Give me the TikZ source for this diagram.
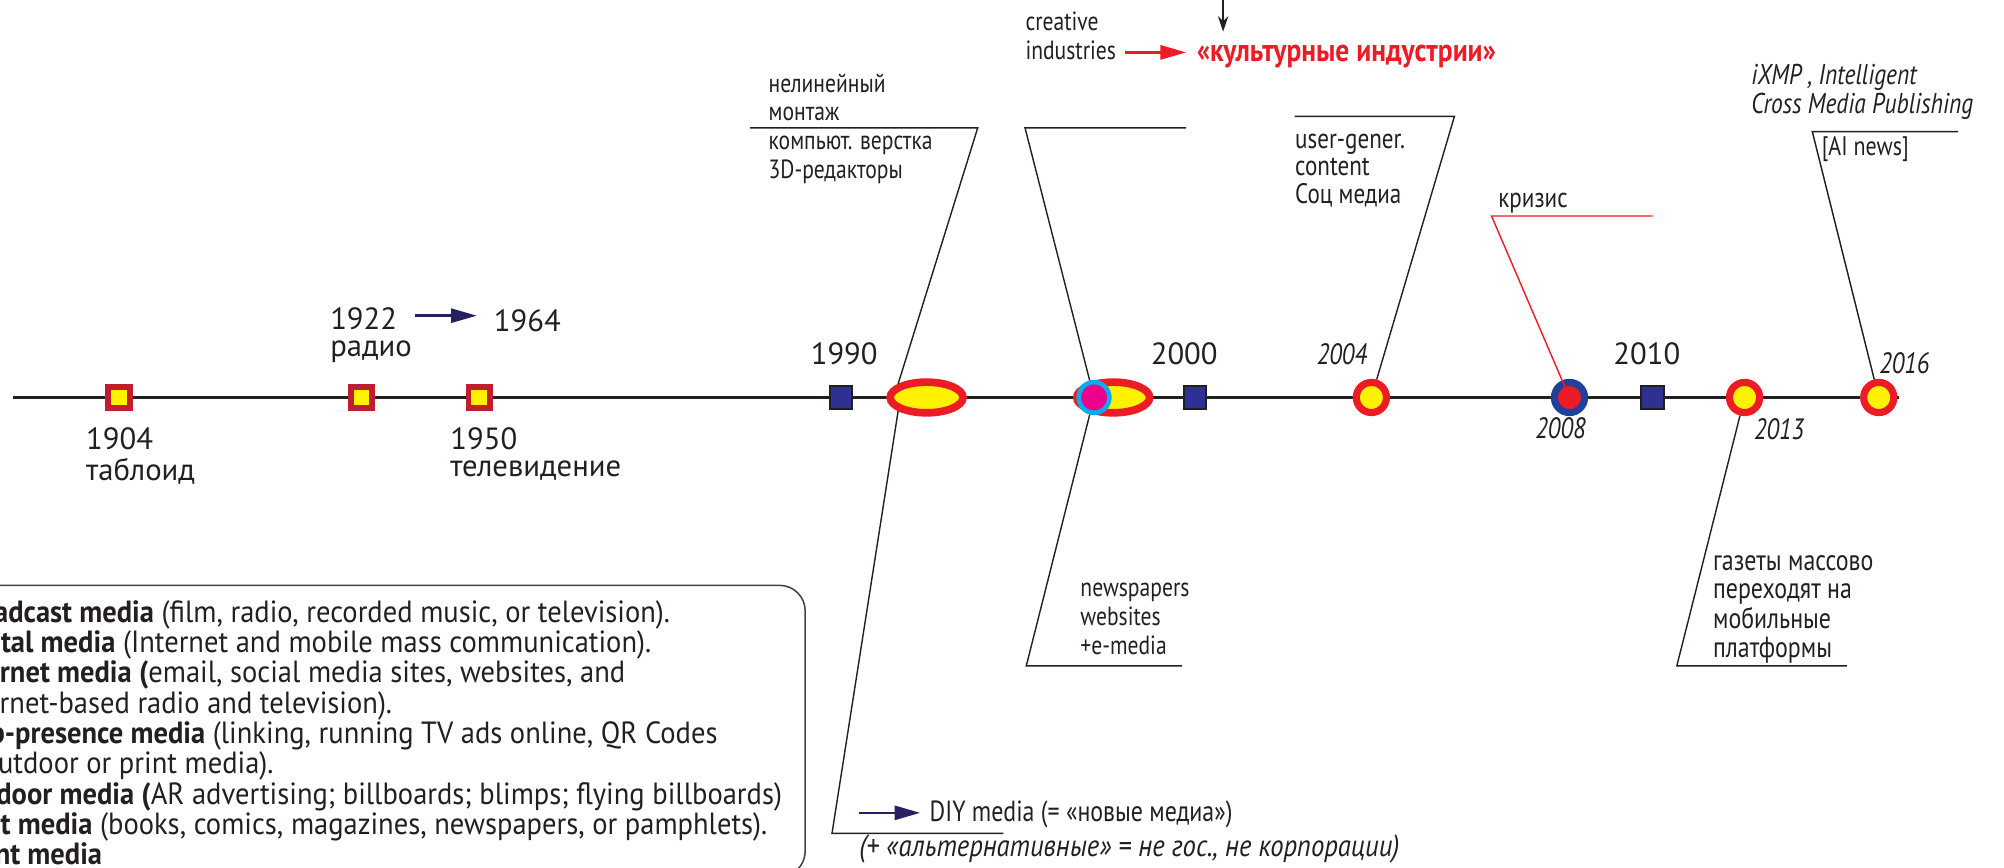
\documentclass[tikz,border=0pt]{standalone}
\usepackage{fontspec}
\setmainfont{PT Sans}
\newfontfamily\narrowfont[FakeStretch=0.82]{PT Sans}
\newfontfamily\semifont[FakeStretch=0.93]{PT Sans}
\usetikzlibrary{shapes.geometric,arrows.meta}
\definecolor{mred}{HTML}{ED1C24}
\definecolor{myellow}{HTML}{FFF200}
\definecolor{mnavy}{HTML}{2E3192}
\definecolor{mdark}{HTML}{231F20}
\definecolor{mcrimson}{HTML}{BE1E2D}
\definecolor{mblue}{HTML}{21409A}
\definecolor{mcyan}{HTML}{00AEEF}
\definecolor{mmagenta}{HTML}{EC008C}
\definecolor{marrow}{HTML}{262262}

\begin{document}
\begin{tikzpicture}[x=0.5pt, y=-0.5pt,
    every node/.style={inner sep=0pt, text=mdark},
    oldmark/.style={rectangle, draw=mcrimson, fill=myellow, line width=2.3pt, minimum size=8.4pt},
    newmark/.style={rectangle, draw=mdark, fill=mnavy, line width=0.9pt, minimum size=8.8pt},
    ringmark/.style={circle, draw=mred, fill=myellow, line width=2.8pt, minimum size=11.8pt},
    ovalmark/.style={ellipse, draw=mred, fill=myellow, line width=3pt, minimum width=28.5pt, minimum height=12pt},
    yearlbl/.style={anchor=base west, font=\fontsize{12}{10.5}\selectfont},
    itlbl/.style={anchor=base, font=\narrowfont\itshape\fontsize{11.5}{12}\selectfont},
    notelbl/.style={anchor=base west, font=\narrowfont\fontsize{10.3}{11.25}\selectfont},
    lead/.style={draw=mdark, line width=0.55pt},
    fwd/.style={-{Triangle[length=10pt,width=5.5pt]}, line width=1pt, draw=marrow},
  ]
  \useasboundingbox (0,0) rectangle (1568,679);

  \begin{scope}
    \clip (0,0) rectangle (1568,679);
    \draw[rounded corners=10pt, draw=mdark!85, line width=0.6pt] (-40,458) rectangle (630,686);
    \node (legend) [anchor=base west, font=\semifont\fontsize{12}{11}\selectfont] at (-38,487) {
      \begin{tabular}[t]{@{}l@{}}
        \textbf{Broadcast media} (film, radio, recorded music, or television). \\
        \textbf{Digital media} (Internet and mobile mass communication). \\
        \textbf{Internet media (}email, social media sites, websites, and \\
        Internet-based radio and television). \\
        \textbf{Web-presence media} (linking, running TV ads online, QR Codes \\
        in outdoor or print media). \\
        \textbf{Outdoor media (}AR advertising; billboards; blimps; flying billboards) \\
        \textbf{Print media} (books, comics, magazines, newspapers, or pamphlets). \\
        \textbf{Event media}
      \end{tabular}
    };
  \end{scope}

  \coordinate (tl0) at (10,311);
  \coordinate (tl1) at (1486,311);
  \draw[draw=mdark, line width=1.2pt] (tl0) -- (tl1);

  \node (sq1904) [oldmark] at (93,311) {};
  \node (sq1922) [oldmark] at (283,311) {};
  \node (sq1950) [oldmark] at (375,311) {};
  \node (bx1990) [newmark] at (658,311) {};
  \node (bx2000) [newmark] at (935,311) {};
  \node (bx2010) [newmark] at (1293,311) {};
  \node (ov1) [ovalmark] at (725,311) {};
  \node (ov2) [ovalmark] at (871,311) {};
  \node (dot2) [circle, draw=mcyan, fill=mmagenta, line width=1.8pt, minimum size=12pt] at (856,311) {};
  \node (rg2004) [ringmark] at (1073,311) {};
  \node (rg2008) [ringmark, draw=mblue, fill=mred] at (1228,311) {};
  \node (rg2013) [ringmark] at (1365,311) {};
  \node (rg2016) [ringmark] at (1470,311) {};

  \node (n1904) [yearlbl] at (67,352) {
    \begin{tabular}[t]{@{}l@{}}
      1904 \\
      таблоид
    \end{tabular}
  };
  \node (n1922) [yearlbl] at (258,258) {
    \begin{tabular}[t]{@{}l@{}}
      1922 \\
      радио
    \end{tabular}
  };
  \node (n1964) [yearlbl] at (386,259) {1964};
  \node (n1950) [yearlbl] at (352,352) {
    \begin{tabular}[t]{@{}l@{}}
      1950 \\
      телевидение
    \end{tabular}
  };
  \node (n1990) [yearlbl] at (634,285) {1990};
  \node (n2000) [yearlbl] at (900,285) {2000};
  \node (n2010) [yearlbl] at (1262,285) {2010};

  \node (i2004) [itlbl] at (1050,285) {2004};
  \node (i2008) [itlbl] at (1221,343) {2008};
  \node (i2013) [itlbl] at (1392,344) {2013};
  \node (i2016) [itlbl] at (1490,292) {2016};

  \node (edit) [notelbl] at (601,72) {
    \begin{tabular}[t]{@{}l@{}}
      нелинейный \\
      монтаж \\
      компьют. верстка \\
      3D-редакторы
    \end{tabular}
  };
  \node (ci) [notelbl] at (802,24) {
    \begin{tabular}[t]{@{}l@{}}
      creative \\
      industries
    \end{tabular}
  };
  \node (kult) [notelbl, text=mred, font=\bfseries\fontsize{12.5}{12}\selectfont\addfontfeature{FakeStretch=0.86}] at (936,48) {«культурные индустрии»};
  \node (ugc) [notelbl, font=\narrowfont\fontsize{11}{10.75}\selectfont] at (1013,116) {
    \begin{tabular}[t]{@{}l@{}}
      user-gener. \\
      content \\
      Соц медиа
    \end{tabular}
  };
  \node (krz) [notelbl, font=\narrowfont\fontsize{11}{11}\selectfont] at (1172,162) {кризис};
  \node (ixmp) [notelbl, font=\narrowfont\itshape\fontsize{11.2}{11.5}\selectfont] at (1370,66) {
    \begin{tabular}[t]{@{}l@{}}
      iXMP , Intelligent \\
      Cross Media Publishing
    \end{tabular}
  };
  \node (ainews) [notelbl, font=\narrowfont\fontsize{10.5}{11}\selectfont] at (1425,122) {[AI news]};
  \node (nws) [notelbl] at (845,467) {
    \begin{tabular}[t]{@{}l@{}}
      newspapers \\
      websites \\
      +e-media
    \end{tabular}
  };
  \node (gaz) [notelbl, font=\narrowfont\fontsize{11.4}{11.25}\selectfont] at (1340,446) {
    \begin{tabular}[t]{@{}l@{}}
      газеты массово \\
      переходят на \\
      мобильные \\
      платформы
    \end{tabular}
  };
  \node (diy) [notelbl, font=\narrowfont\fontsize{11.4}{12}\selectfont] at (727,643) {DIY media (= «новые медиа»)};
  \node (alt) [notelbl, font=\itshape\fontsize{12}{12}\selectfont\addfontfeature{FakeStretch=0.87}] at (672,670) {(+ «альтернативные» = не гос., не корпорации)};

  \coordinate (ra) at (325,247);
  \draw[fwd, shorten >=6.5pt] (ra) -- (ra -| n1964.west);
  \coordinate (ca) at (880,41);
  \draw[fwd, draw=mred, shorten >=4pt] (ca) -- (ca -| kult.west);
  \coordinate (cb) at (957,0);
  \draw[-{Stealth[length=6pt,width=4pt]}, lead, shorten >=5pt] (cb) -- (cb |- kult.north);
  \coordinate (da) at (672,636);
  \draw[fwd, shorten >=3.5pt] (da) -- (da -| diy.west);

  \coordinate (a1) at (587,100);
  \coordinate (a2) at (765,100);
  \coordinate (a3) at (651,652);
  \coordinate (a4) at (785,652);
  \draw[lead] (a1) -- (a2) -- (ov1.north west);
  \draw[lead] (ov1.south west) -- (a3) -- (a4);

  \coordinate (b1) at (928,100);
  \coordinate (b2) at (802,100);
  \coordinate (b3) at (803,521);
  \coordinate (b4) at (925,521);
  \draw[lead] (b1) -- (b2) -- (dot2);
  \draw[lead] (dot2) -- (b3) -- (b4);

  \coordinate (c1) at (1013,91);
  \coordinate (c2) at (1138,91);
  \draw[lead] (c1) -- (c2) -- (rg2004);

  \coordinate (k1) at (1293,169);
  \coordinate (k2) at (1167,169);
  \draw[lead, draw=mred] (k1) -- (k2) -- (rg2008.center);

  \coordinate (x1) at (1532,103);
  \coordinate (x2) at (1418,103);
  \draw[lead] (x1) -- (x2) -- (rg2016);

  \coordinate (g1) at (1312,521);
  \coordinate (g2) at (1445,521);
  \draw[lead] (rg2013) -- (g1) -- (g2);
\end{tikzpicture}
\end{document}
